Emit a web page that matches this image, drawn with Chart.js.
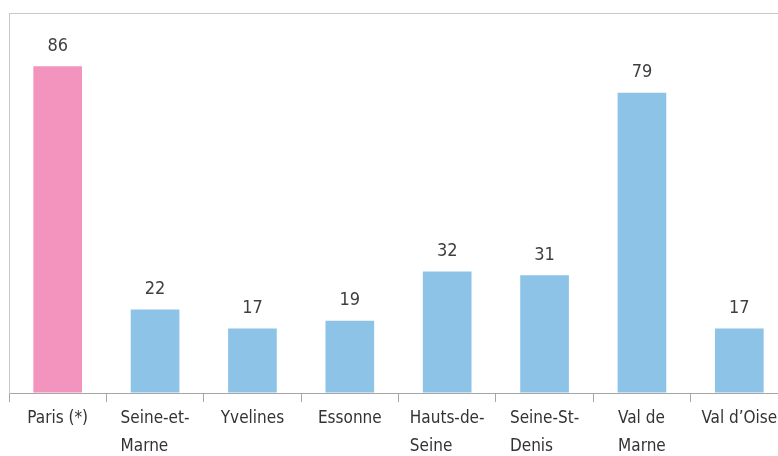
<!DOCTYPE html>
<html>
<head>
<meta charset="utf-8">
<script src="https://cdn.jsdelivr.net/npm/chart.js@4.4.0/dist/chart.umd.min.js"></script>
<style>
  html, body { margin: 0; padding: 0; background: #fff; overflow: hidden; }
  .wrap { width: 788px; height: 464px; }
</style>
</head>
<body>
<div class="wrap"><canvas id="chart" width="788" height="464"></canvas></div>
<script>
const departements = [
  'Paris (*)', ['Seine-et-', 'Marne'], 'Yvelines', 'Essonne',
  ['Hauts-de-', 'Seine'], ['Seine-St-', 'Denis'], ['Val de', 'Marne'], 'Val d\u2019Oise'
];
const valeurs = [86, 22, 17, 19, 32, 31, 79, 17];
const couleurs = ['#f294be', '#8ec3e8', '#8ec3e8', '#8ec3e8', '#8ec3e8', '#8ec3e8', '#8ec3e8', '#8ec3e8'];

const fontFamily = '"Liberation Sans Narrow", "DejaVu Sans Condensed", sans-serif';
const labelSize = 17;
const labelLine = 28;

// valeurs au-dessus des barres + libellés alignés à gauche dans leur bloc
const valueLabels = {
  id: 'valueLabels',
  afterDatasetsDraw(chart) {
    const ctx = chart.ctx;
    const meta = chart.getDatasetMeta(0);
    ctx.save();
    ctx.font = '18px ' + fontFamily;
    ctx.fillStyle = '#404040';
    ctx.textAlign = 'center';
    ctx.textBaseline = 'middle';
    meta.data.forEach((bar, i) => {
      ctx.fillText(valeurs[i], bar.x, bar.y - 20);
    });
    ctx.restore();
  },
  afterDraw(chart) {
    const ctx = chart.ctx;
    const x = chart.scales.x;
    ctx.save();
    ctx.font = labelSize + 'px ' + fontFamily;
    ctx.fillStyle = '#333';
    ctx.textAlign = 'left';
    ctx.textBaseline = 'middle';
    departements.forEach((lab, i) => {
      const lines = Array.isArray(lab) ? lab : [lab];
      const w = Math.max(...lines.map(l => ctx.measureText(l).width));
      const cx = x.getPixelForValue(i);
      lines.forEach((l, j) => {
        ctx.fillText(l, cx - w / 2, x.top + 9 + 3 + labelLine / 2 + j * labelLine);
      });
    });
    ctx.restore();
  }
};

new Chart(document.getElementById('chart'), {
  type: 'bar',
  data: {
    labels: departements,
    datasets: [{
      data: valeurs,
      backgroundColor: couleurs,
      barPercentage: 0.5,
      categoryPercentage: 1
    }]
  },
  options: {
    responsive: false,
    animation: false,
    layout: { padding: { left: 9, top: 13, right: 0, bottom: 0 } },
    plugins: { legend: { display: false }, tooltip: { enabled: false } },
    scales: {
      x: {
        grid: {
          offset: true,
          drawOnChartArea: false,
          tickLength: 9,
          color: '#a6a6a6'
        },
        border: { color: '#a6a6a6' },
        ticks: {
          color: 'rgba(0,0,0,0)',
          font: { family: fontFamily, size: labelSize, lineHeight: labelLine / labelSize },
          padding: 3,
          maxRotation: 0,
          autoSkip: false
        }
      },
      y: {
        min: 0,
        max: 100,
        ticks: { display: false, stepSize: 100 },
        grid: {
          drawTicks: false,
          color: c => c.tick.value === 100 ? '#c8c8c8' : 'rgba(0,0,0,0)'
        },
        border: { color: '#c8c8c8' }
      }
    }
  },
  plugins: [valueLabels]
});
</script>
</body>
</html>
